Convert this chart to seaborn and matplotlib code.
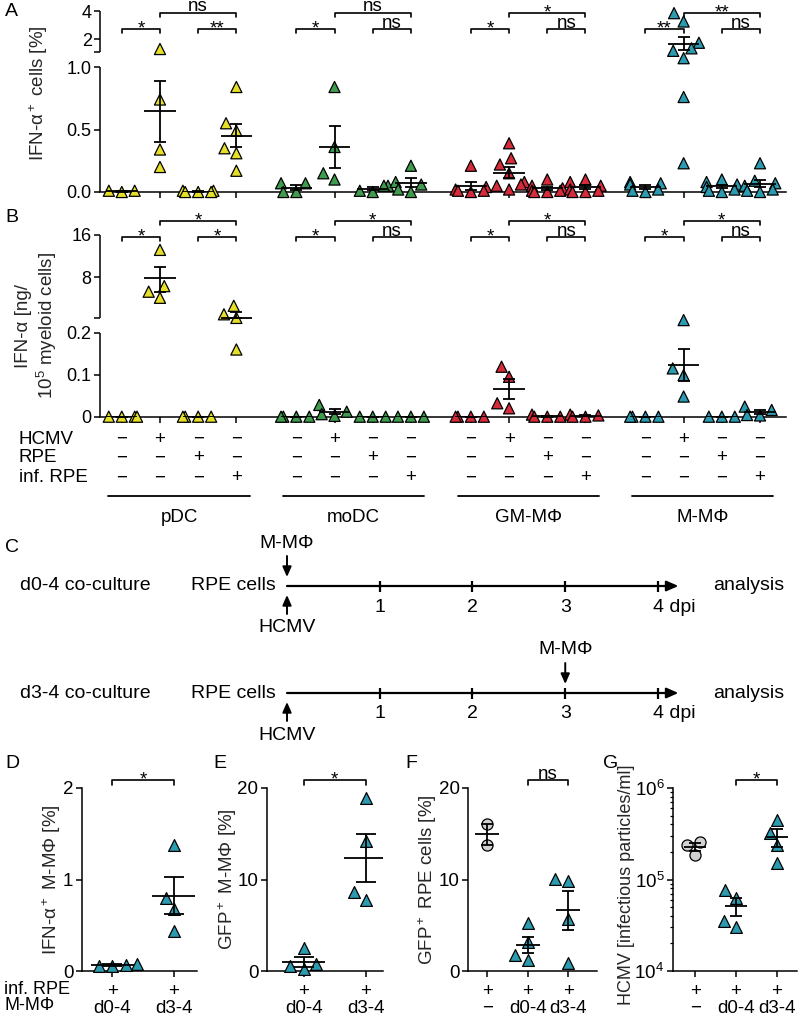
import numpy as np
import pandas as pd
import matplotlib
matplotlib.use("Agg")
import matplotlib.pyplot as plt
import matplotlib.transforms as mtransforms
from matplotlib.ticker import FixedLocator, FixedFormatter, NullFormatter, LogLocator
import seaborn as sns

# ---------------- data ----------------
CELL_TYPES = ["pDC", "moDC", "GM-MΦ", "M-MΦ"]
CELL_COLORS = ["#e6df29", "#3f9b4d", "#d62b3b", "#2c9bb0"]
HCMV_ROW = ["−", "+", "−", "−"]
RPE_ROW = ["−", "−", "+", "−"]
INF_RPE_ROW = ["−", "−", "−", "+"]

# A: IFN-a+ cells [%]; per cell type: mock, HCMV, RPE, inf. RPE
A_PDC = [[0.01, 0.01, 0.0], [1.3, 0.74, 0.34, 0.2], [0.01, 0.01, 0.0, 0.0, 0.0],
         [0.84, 0.55, 0.49, 0.35, 0.31, 0.17]]
A_MODC = [[0.07, 0.07, 0.0, 0.0], [0.84, 0.36, 0.15, 0.1], [0.05, 0.05, 0.01, 0.0],
          [0.21, 0.08, 0.06, 0.02, 0.0]]
A_GMM = [[0.21, 0.04, 0.02, 0.01, 0.01, 0.0], [0.39, 0.27, 0.22, 0.15, 0.08, 0.06, 0.05, 0.02],
         [0.1, 0.05, 0.03, 0.01, 0.01, 0.0, 0.0], [0.1, 0.08, 0.05, 0.02, 0.01, 0.0, 0.0]]
A_MM = [[0.08, 0.07, 0.06, 0.02, 0.01, 0.0], [3.88, 3.28, 1.75, 1.35, 1.17, 1.05, 0.76, 0.23],
        [0.1, 0.08, 0.06, 0.04, 0.02, 0.01, 0.0], [0.23, 0.09, 0.07, 0.05, 0.02, 0.01, 0.0]]
A_SIG = [["*", "**", "ns"], ["*", "ns", "ns"], ["*", "ns", "*"], ["**", "ns", "**"]]

# B: IFN-a [ng / 1e5 myeloid cells]
B_PDC = [[0, 0, 0, 0], [12.5, 6.9, 6.3, 5.7], [0, 0, 0, 0], [5.0, 4.35, 4.1, 0.16]]
B_MODC = [[0, 0, 0, 0], [0.028, 0.012, 0.006, 0.002], [0, 0, 0], [0, 0, 0]]
B_GMM = [[0, 0, 0, 0], [0.119, 0.095, 0.032, 0.02], [0.005, 0, 0, 0], [0.005, 0.003, 0, 0]]
B_MM = [[0, 0, 0, 0], [0.23, 0.115, 0.099, 0.048], [0, 0, 0], [0.024, 0.016, 0.004, 0.003]]
B_SIG = [["*", "*", "*"], ["*", "ns", "*"], ["*", "ns", "*"], ["*", "ns", "*"]]

# C: timeline
DAYS = [1, 2, 3, 4]
DAY_LABELS = ["1", "2", "3", "4 dpi"]
ROW_NAMES = ["d0-4 co-culture", "d3-4 co-culture"]
MMPHI_DAY = [0, 3]

# D-G
DE_LABELS = ["+\nd0-4", "+\nd3-4"]
FG_LABELS = ["+\n−", "+\nd0-4", "+\nd3-4"]
D_VALUES = [[0.08, 0.07, 0.06, 0.05], [1.38, 0.8, 0.68, 0.44]]
E_VALUES = [[2.5, 0.8, 0.5, 0.2], [18.9, 14.2, 8.6, 7.8]]
F_VALUES = [[16.1, 13.8], [5.2, 3.2, 1.7, 1.2], [10.1, 9.8, 5.7, 0.9]]
G_VALUES = [[2.6e5, 2.4e5, 1.87e5], [7.7e4, 6.3e4, 3.5e4, 3.0e4], [4.5e5, 3.2e5, 2.4e5, 1.5e5]]
TEAL = "#2c9bb0"
GREY = "#d2d2d2"

# ---------------- style ----------------
sns.set_style("ticks")
plt.rcParams["font.family"] = ["Liberation Sans", "DejaVu Sans"]
plt.rcParams["mathtext.fontset"] = "custom"
plt.rcParams["mathtext.rm"] = "Liberation Sans"
plt.rcParams["mathtext.it"] = "Liberation Sans:italic"
plt.rcParams["mathtext.default"] = "regular"
plt.rcParams["axes.linewidth"] = 1.1
for k in ["xtick", "ytick"]:
    plt.rcParams[f"{k}.major.size"] = 4
    plt.rcParams[f"{k}.major.width"] = 1.1
    plt.rcParams[f"{k}.minor.size"] = 2.5
    plt.rcParams[f"{k}.minor.width"] = 0.9
    plt.rcParams[f"{k}.color"] = "black"
plt.rcParams["axes.edgecolor"] = "black"
plt.rcParams["text.color"] = "black"

FS_TICK = 13
FS_LABEL = 13.5
FS_TEXT = 13.5
FS_SIG = 13.5

W, H = 800, 1016
fig = plt.figure(figsize=(W / 100, H / 100), dpi=100)


def px_axes(left, top, right, bottom):
    return fig.add_axes([left / W, 1 - bottom / H, (right - left) / W, (bottom - top) / H])


def ftext(x, y, s, **kw):
    fig.text(x / W, 1 - y / H, s, **kw)


# broken y scales
A_VAL = [-1, 0, 1.0, 1.085, 4, 10]
A_PX = [-125, 0, 125, 140, 140 + 13.9 * 2.915, 140 + 13.9 * 8.915]


def a_fwd(v):
    return np.interp(np.asarray(v, float), A_VAL, A_PX)


def a_inv(p):
    return np.interp(np.asarray(p, float), A_PX, A_VAL)


def b_fwd(v):
    v = np.asarray(v, float)
    with np.errstate(all="ignore"):
        top = 98.5 + 42.3 * np.log2(np.maximum(v, 1e-9) / 4.08)
    mid = 98 + (v - 0.2333) / (4.08 - 0.2333) * 0.5
    return np.where(v <= 0.2333, v * 420, np.where(v < 4.08, mid, top))


def b_inv(p):
    p = np.asarray(p, float)
    with np.errstate(all="ignore"):
        top = 4.08 * 2 ** ((p - 98.5) / 42.3)
    mid = 0.2333 + (p - 98) / 0.5 * (4.08 - 0.2333)
    return np.where(p <= 98, p / 420, np.where(p < 98.5, mid, top))


GROUP_STEP = 4.57
A_XLIM = (-0.57, 17.39)


def long_frame(groups):
    rows = []
    for g, (cell, conds) in enumerate(zip(CELL_TYPES, groups)):
        for i, vals in enumerate(conds):
            for v in vals:
                rows.append({"x": g * GROUP_STEP + i, "y": v, "cell": cell})
    return pd.DataFrame(rows)


def mean_sem(ax, x, vals, half, cap, lw=1.3):
    vals = np.asarray(vals, float)
    m = vals.mean()
    s = vals.std(ddof=1) / np.sqrt(len(vals))
    ax.hlines(m, x - half, x + half, color="black", lw=lw, zorder=5)
    ax.errorbar(x, m, yerr=s, fmt="none", ecolor="black", elinewidth=lw,
                capsize=cap, capthick=lw, zorder=5)


def bracket(ax, x1, x2, yfrac, text, tip=0.022, fs=FS_SIG):
    tr = mtransforms.blended_transform_factory(ax.transData, ax.transAxes)
    ax.plot([x1, x1, x2, x2], [yfrac - tip, yfrac, yfrac, yfrac - tip], transform=tr,
            color="black", lw=1.2, clip_on=False)
    dy = -3.3 if text.startswith("*") else 1
    ax.annotate(text, xy=((x1 + x2) / 2, yfrac), xycoords=tr, xytext=(0, dy),
                textcoords="offset points", ha="center", va="baseline", fontsize=fs,
                annotation_clip=False)


def broken_spine(ax, segments):
    tr = mtransforms.blended_transform_factory(ax.transAxes, ax.transData)
    for lo, hi in segments:
        ax.plot([0, 0], [lo, hi], transform=tr, color="black", lw=1.1, clip_on=False,
                solid_capstyle="butt")


def dot_panel(ax, groups, sig, ylim, fwd, inv, yticks, yticklabels, minor, segments,
              br_low, br_high):
    ax.set_yscale("function", functions=(fwd, inv))
    ax.set_xlim(*A_XLIM)
    ax.set_ylim(*ylim)
    df = long_frame(groups)
    sns.swarmplot(data=df, x="x", y="y", hue="cell", palette=dict(zip(CELL_TYPES, CELL_COLORS)),
                  native_scale=True, orient="x", marker="^", size=8, edgecolor="black",
                  linewidth=0.9, legend=False, warn_thresh=1, ax=ax, zorder=3, clip_on=False)
    for g, conds in enumerate(groups):
        for i, vals in enumerate(conds):
            mean_sem(ax, g * GROUP_STEP + i, vals, 0.41, 4.5)
        x0 = g * GROUP_STEP
        bracket(ax, x0, x0 + 1, br_low, sig[g][0])
        bracket(ax, x0 + 2, x0 + 3, br_low, sig[g][1])
        bracket(ax, x0 + 1, x0 + 3, br_high, sig[g][2])
    ax.set_xlim(*A_XLIM)
    ax.set_ylim(*ylim)
    ax.set_xticks([g * GROUP_STEP + i for g in range(4) for i in range(4)])
    ax.tick_params(axis="x", labelbottom=False, length=4)
    ax.yaxis.set_major_locator(FixedLocator(yticks))
    ax.yaxis.set_major_formatter(FixedFormatter(yticklabels))
    ax.yaxis.set_minor_locator(FixedLocator(minor))
    ax.yaxis.set_minor_formatter(NullFormatter())
    ax.tick_params(axis="y", which="both", length=4, width=1.1, labelsize=FS_TICK, pad=2)
    ax.tick_params(axis="x", which="minor", length=0)
    ax.set_xlabel("")
    sns.despine(ax=ax, left=True)
    broken_spine(ax, segments)


# ---------------- panel A ----------------
ax_a = px_axes(100, 192 - a_fwd(4), 786, 192)
dot_panel(ax_a, [A_PDC, A_MODC, A_GMM, A_MM], A_SIG, (0, 4), a_fwd, a_inv,
          [0, 0.5, 1.0, 2, 4], ["0.0", "0.5", "1.0", "2", "4"], [1.085],
          [(0, 1.0), (1.085, 4)], 0.901, 0.993)
ax_a.set_ylabel("IFN-α$^+$ cells [%]", fontsize=FS_LABEL, va="center")
ax_a.yaxis.set_label_coords(-0.09, 0.55)

# ---------------- panel B ----------------
ax_b = px_axes(100, 416.7 - b_fwd(16), 786, 416.7)
dot_panel(ax_b, [B_PDC, B_MODC, B_GMM, B_MM], B_SIG, (0, 16), b_fwd, b_inv,
          [0, 0.1, 0.2, 8, 16], ["0", "0.1", "0.2", "8", "16"], [4.08],
          [(0, 0.2), (4.08, 16)], 0.986, 1.078)
ax_b.set_ylabel("IFN-α [ng/\n10$^5$ myeloid cells]", fontsize=FS_LABEL, va="center",
                linespacing=1.15)
ax_b.yaxis.set_label_coords(-0.092, 0.5)

# condition table under B
tab = mtransforms.blended_transform_factory(ax_b.transData, fig.transFigure)
for row, y in zip([HCMV_ROW, RPE_ROW, INF_RPE_ROW], [439, 458, 478]):
    for g in range(4):
        for i, s in enumerate(row):
            ax_b.text(g * GROUP_STEP + i, 1 - y / H, s, transform=tab, ha="center", va="center",
                      fontsize=FS_TEXT, clip_on=False)
for name, y in zip(["HCMV", "RPE", "inf. RPE"], [439, 458, 478]):
    ftext(19, y, name, ha="left", va="center", fontsize=FS_TEXT)
for g, cell in enumerate(CELL_TYPES):
    c = g * GROUP_STEP + 1.5
    ax_b.plot([c - 1.85, c + 1.85], [1 - 496 / H] * 2, transform=tab, color="black", lw=1.3,
              clip_on=False)
    ax_b.text(c, 1 - 518 / H, cell, transform=tab, ha="center", va="center", fontsize=FS_TEXT,
              clip_on=False)

# ---------------- panel C ----------------
ax_c = fig.add_axes([0, 0, 1, 1], zorder=-1)
ax_c.set_xlim(-287 / 92.75, (W - 287) / 92.75)
ax_c.set_ylim(H, 0)
ax_c.axis("off")
small_arrow = dict(arrowstyle="-|>,head_length=0.5,head_width=0.22", color="black", lw=1.4,
                   mutation_scale=12, shrinkA=0, shrinkB=0)
FS_C = 14
for name, y, mday in zip(ROW_NAMES, [586, 693], MMPHI_DAY):
    ax_c.annotate("", xy=(4.22, y), xytext=(0, y),
                  arrowprops=dict(arrowstyle="-|>,head_length=0.5,head_width=0.22", color="black",
                                  lw=1.6, mutation_scale=14, shrinkA=0, shrinkB=0))
    ax_c.vlines(DAYS, y - 5.5, y + 5.5, color="black", lw=1.6)
    for d, lab in zip(DAYS, DAY_LABELS):
        if lab.startswith("4"):
            ax_c.annotate(lab, xy=(d, y + 21), xytext=(-3.6, 0), textcoords="offset points",
                          ha="left", va="center", fontsize=FS_C)
        else:
            ax_c.text(d, y + 21, lab, ha="center", va="center", fontsize=FS_C)
    ftext(20, y, name, ha="left", va="center", fontsize=FS_C)
    ftext(276, y, "RPE cells", ha="right", va="center", fontsize=FS_C)
    ftext(713, y, "analysis", ha="left", va="center", fontsize=FS_C)
    ax_c.annotate("", xy=(mday, y - 9), xytext=(mday, y - 30), arrowprops=small_arrow)
    ax_c.text(mday, y - 43, "M-MΦ", ha="center", va="center", fontsize=FS_C)
    ax_c.annotate("", xy=(0, y + 9), xytext=(0, y + 28), arrowprops=small_arrow)
    ax_c.text(0, y + 42, "HCMV", ha="center", va="center", fontsize=FS_C)


# ---------------- panels D-G ----------------
def small_panel(ax, values, labels, xlim, half, cap, sig_pair, sig_text, ctrl_first=False,
                log=False):
    if log:
        ax.set_yscale("log")
    rows = []
    for i, vals in enumerate(values):
        for v in vals:
            rows.append({"x": i, "y": v, "ctrl": ctrl_first and i == 0})
    df = pd.DataFrame(rows)
    tri = df[~df["ctrl"]]
    sns.swarmplot(data=tri, x="x", y="y", native_scale=True, orient="x", marker="^", size=8.5,
                  color=TEAL, edgecolor="black", linewidth=0.9, warn_thresh=1, ax=ax, zorder=3,
                  clip_on=False)
    if ctrl_first:
        circ = df[df["ctrl"]]
        sns.swarmplot(data=circ, x="x", y="y", native_scale=True, orient="x", marker="o",
                      size=8, color=GREY, edgecolor="black", linewidth=0.9, warn_thresh=1,
                      ax=ax, zorder=3, clip_on=False)
    for i, vals in enumerate(values):
        mean_sem(ax, i, vals, half, cap)
    ax.set_xlim(*xlim)
    ax.set_xticks(range(len(labels)))
    ax.set_xticklabels(labels, linespacing=0.95)
    ax.tick_params(axis="x", length=4, labelsize=FS_TICK + 0.5, pad=5)
    ax.tick_params(axis="y", labelsize=FS_TICK + 0.5, pad=2)
    ax.set_xlabel("")
    sns.despine(ax=ax)
    bracket(ax, sig_pair[0], sig_pair[1], 1.044, sig_text, tip=0.025)


ax_d = px_axes(81.7, 788, 197, 971)
small_panel(ax_d, D_VALUES, DE_LABELS, (-0.5, 1.38), 0.35, 7, (0, 1), "*")
ax_d.set_ylim(0, 2)
ax_d.set_yticks([0, 1, 2])
ax_d.set_ylabel("IFN-α$^+$ M-MΦ [%]", fontsize=FS_LABEL, va="center")
ax_d.yaxis.set_label_coords(-0.26, 0.5)

ax_e = px_axes(266.7, 788, 383, 971)
small_panel(ax_e, E_VALUES, DE_LABELS, (-0.6, 1.28), 0.35, 7, (0, 1), "*")
ax_e.set_ylim(0, 20)
ax_e.set_yticks([0, 10, 20])
ax_e.set_ylabel("GFP$^+$ M-MΦ [%]", fontsize=FS_LABEL, va="center")
ax_e.yaxis.set_label_coords(-0.335, 0.5)

ax_f = px_axes(468.3, 788, 596.7, 971)
small_panel(ax_f, F_VALUES, FG_LABELS, (-0.47, 2.7), 0.3, 4.5, (1, 2), "ns", ctrl_first=True)
ax_f.set_ylim(0, 20)
ax_f.set_yticks([0, 10, 20])
ax_f.set_ylabel("GFP$^+$ RPE cells [%]", fontsize=FS_LABEL, va="center")
ax_f.yaxis.set_label_coords(-0.32, 0.5)

ax_g = px_axes(672.7, 788, 797, 971)
small_panel(ax_g, G_VALUES, FG_LABELS, (-0.55, 2.5), 0.27, 4.5, (1, 2), "*", ctrl_first=True,
            log=True)
ax_g.set_ylim(1e4, 1e6)
ax_g.yaxis.set_major_locator(LogLocator(base=10, numticks=5))
ax_g.yaxis.set_minor_locator(LogLocator(base=10, subs=np.arange(2, 10), numticks=20))
ax_g.yaxis.set_minor_formatter(NullFormatter())
ax_g.set_ylabel("HCMV [infectious particles/ml]", fontsize=FS_LABEL - 0.5, va="center")
ax_g.yaxis.set_label_coords(-0.37, 0.47)

ftext(4, 990, "inf. RPE", ha="left", va="center", fontsize=FS_TICK)
ftext(4, 1006, "M-MΦ", ha="left", va="center", fontsize=FS_TICK)

# panel letters
for letter, (x, y) in zip("ABCDEFG", [(5, 12), (5, 217), (5, 547), (5, 763), (213, 763),
                                      (405, 763), (603, 763)]):
    ftext(x, y, letter, ha="left", va="center", fontsize=14)

fig.savefig("out.png", dpi=100)
